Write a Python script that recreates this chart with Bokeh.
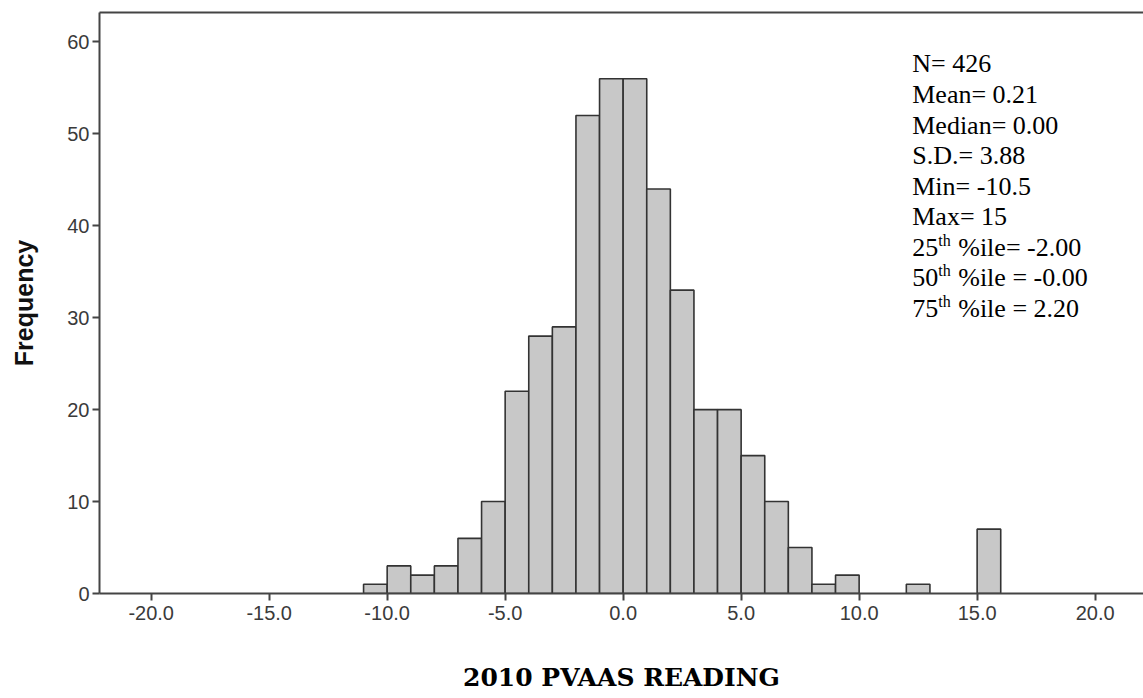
from bokeh.plotting import figure
from bokeh.models import Range1d, LinearAxis, FixedTicker, Label, ColumnDataSource
from bokeh.embed import file_html
from bokeh.resources import INLINE

# ---- data ----
bin_left = [-11, -10, -9, -8, -7, -6, -5, -4, -3, -2, -1, 0, 1, 2, 3, 4, 5, 6, 7, 8, 9, 10, 11, 12, 13, 14, 15]
counts = [1, 3, 2, 3, 6, 10, 22, 28, 29, 52, 56, 56, 44, 33, 20, 20, 15, 10, 5, 1, 2, 0, 0, 1, 0, 0, 7]
bin_width = 1
x_ticks = [-20, -15, -10, -5, 0, 5, 10, 15, 20]
y_ticks = [0, 10, 20, 30, 40, 50, 60]
x_title = "2010 PVAAS READING"
y_title = "Frequency"
stat_lines = [
    ("N= 426", None, None),
    ("Mean= 0.21", None, None),
    ("Median= 0.00", None, None),
    ("S.D.= 3.88", None, None),
    ("Min= -10.5", None, None),
    ("Max= 15", None, None),
    ("25", "th", "%ile= -2.00"),
    ("50", "th", "%ile = -0.00"),
    ("75", "th", "%ile = 2.20"),
]

# ---- figure ----
p = figure(width=1143, height=698, output_backend="svg", toolbar_location=None,
           x_range=Range1d(-22.19, 22.05), y_range=Range1d(0, 63.2),
           min_border_left=99, min_border_right=0, min_border_top=12, min_border_bottom=105,
           background_fill_color="white", border_fill_color="white")
p.outline_line_color = None
p.xgrid.visible = False
p.ygrid.visible = False

keep = [i for i, c in enumerate(counts) if c > 0]
src = ColumnDataSource(dict(
    left=[bin_left[i] for i in keep],
    right=[bin_left[i] + bin_width for i in keep],
    top=[counts[i] for i in keep],
))
p.quad(left="left", right="right", top="top", bottom=0, source=src,
       fill_color="#c8c8c8", line_color="#333333", line_width=1.6)

axis_color = "#444444"
for ax in (p.xaxis[0], p.yaxis[0]):
    ax.axis_line_color = axis_color
    ax.axis_line_width = 2
    ax.major_tick_line_color = axis_color
    ax.major_tick_line_width = 2
    ax.major_tick_out = 7
    ax.major_tick_in = 0
    ax.minor_tick_line_color = None
    ax.major_label_text_font = "Liberation Sans"
    ax.major_label_text_font_size = "20px"
    ax.major_label_text_color = "#3a3a3a"

p.xaxis[0].ticker = FixedTicker(ticks=x_ticks)
p.xaxis[0].major_label_overrides = {t: f"{t:.1f}" for t in x_ticks}
p.xaxis[0].major_label_standoff = 5

p.yaxis[0].ticker = FixedTicker(ticks=y_ticks)
p.yaxis[0].major_label_standoff = 3
p.yaxis[0].axis_label = y_title
p.yaxis[0].axis_label_text_font = "Liberation Sans"
p.yaxis[0].axis_label_text_font_style = "bold"
p.yaxis[0].axis_label_text_font_size = "25px"
p.yaxis[0].axis_label_text_color = "#111111"
p.yaxis[0].axis_label_standoff = 26

top_axis = LinearAxis(axis_line_color=axis_color, axis_line_width=2,
                      ticker=FixedTicker(ticks=[]),
                      major_tick_line_color=None, minor_tick_line_color=None)
p.add_layout(top_axis, "above")

# x title carried by a line-less second axis whose bounds put its centre
# slightly left of the frame centre, as in the reference
title_axis = LinearAxis(bounds=(-22.19, 20.0), ticker=FixedTicker(ticks=[]),
                        axis_line_color=None, major_tick_line_color=None,
                        minor_tick_line_color=None, major_tick_out=0, major_tick_in=0,
                        major_label_standoff=0,
                        axis_label=x_title, axis_label_standoff=40,
                        axis_label_text_font="DejaVu Serif",
                        axis_label_text_font_style="bold",
                        axis_label_text_font_size="25px",
                        axis_label_text_color="black")
p.add_layout(title_axis, "below")

# ---- statistics block ----
sx = 12.25
y0 = 57.6
step = 3.32
fs = "26px"
for i, (main, sup, rest) in enumerate(stat_lines):
    y = y0 - i * step
    p.add_layout(Label(x=sx, y=y, text=main, text_font="Liberation Serif",
                       text_font_size=fs, text_color="black", text_baseline="middle"))
    if sup:
        p.add_layout(Label(x=sx, y=y, x_offset=26, y_offset=7, text=sup,
                           text_font="Liberation Serif", text_font_size="16px",
                           text_color="black", text_baseline="middle"))
        p.add_layout(Label(x=sx, y=y, x_offset=46, text=rest,
                           text_font="Liberation Serif", text_font_size=fs,
                           text_color="black", text_baseline="middle"))

open("out.html", "w").write(file_html(p, INLINE))
